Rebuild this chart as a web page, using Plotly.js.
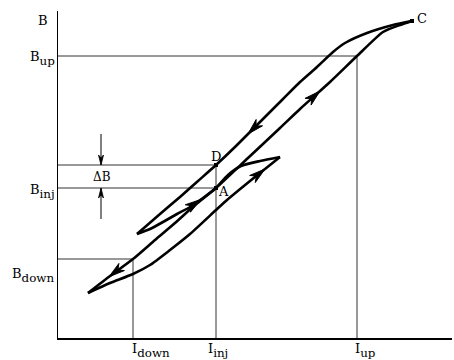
<!DOCTYPE html>
<html><head><meta charset="utf-8">
<script src="https://cdn.plot.ly/plotly-3.0.1.min.js"></script>
<style>html,body{margin:0;padding:0;background:#fff}#chart{width:454px;height:360px}</style>
</head><body><div id="chart"></div>
<script>
// Hysteresis diagram: current I (x) vs field B (y), arbitrary units
// Descending branch from C through D to the left tip of the minor loop
const upperBranchI = [354,335,309,287,275,259,242,225,197,178,158,140,122,102,79];
const upperBranchB = [317,313,305,295,286,271,256,239,211,192,173,157,141,124,104];
// Ascending branch from the left tip through A up to C
const returnBranchI = [79,92,105,119,132,145,158,190,222,242,272,299,325,342,354];
const returnBranchB = [104,109,116,124,131,140,150,180,210,229,256,282,306,313,317];
// Ascending lower branch from the lowest point to the right tip
const lowerBranchI = [30,52,75,92,112,132,158,169,192,207,222];
const lowerBranchB = [45,55,64,73,88,104,128,138,157,169,181];
// Descending branch from the right tip through A and B_down to the lowest point
const fallBranchI = [222,202,183,170,158,137,117,97,75,52,30];
const fallBranchB = [181,177,172,163,150,133,115,98,79,62,45];

// Marked levels
const I_down = 75, I_inj = 158, I_up = 299;
const B_down = 79, B_inj = 150, B_D = 173, B_up = 282;
const C_I = 354, C_B = 317;

const XR = [0,394], YR = [0,327];
const FONT = 'DejaVu Serif, Liberation Serif, serif';

function curve(I, B) {
  return {x:I, y:B, mode:'lines', line:{color:'#000', width:2.6, shape:'spline', smoothing:0.6}, hoverinfo:'skip'};
}
function guide(xs, ys) {
  return {x:xs, y:ys, mode:'lines', line:{color:'#333', width:1}, hoverinfo:'skip'};
}
function pointOn(I, B, x) {
  for (let i=0;i<I.length-1;i++) {
    const a=I[i], b=I[i+1];
    if ((x-a)*(x-b) <= 0 && a!==b) {
      const t=(x-a)/(b-a);
      return {x:x, y:B[i]+t*(B[i+1]-B[i]), dx:b-a, dy:B[i+1]-B[i]};
    }
  }
  return null;
}
function head(tx, ty, dx, dy, len, hw, lw) {
  const m=Math.hypot(dx,dy), ux=dx/m, uy=dy/m, nx=-uy, ny=ux;
  return {x:[tx, tx-len*ux+hw*nx, tx-0.7*len*ux, tx-len*ux-hw*nx, tx],
          y:[ty, ty-len*uy+hw*ny, ty-0.7*len*uy, ty-len*uy-hw*ny, ty],
          mode:'lines', fill:'toself', fillcolor:'#000', line:{color:'#000', width:lw}, hoverinfo:'skip'};
}
function arrowOn(I, B, x) {
  const p = pointOn(I, B, x);
  return head(p.x, p.y, p.dx, p.dy, 16, 4.5, 1);
}

const traces = [
  guide([0, I_up, I_up], [B_up, B_up, 0]),
  guide([0, I_inj, I_inj], [B_D, B_D, 0]),
  guide([0, I_inj], [B_inj, B_inj]),
  guide([0, I_down, I_down], [B_down, B_down, 0]),
  curve(upperBranchI, upperBranchB),
  curve(returnBranchI, returnBranchB),
  curve(lowerBranchI, lowerBranchB),
  curve(fallBranchI, fallBranchB),
  arrowOn(upperBranchI, upperBranchB, 190),
  arrowOn(returnBranchI, returnBranchB, 262),
  arrowOn(returnBranchI, returnBranchB, 143),
  arrowOn(lowerBranchI, lowerBranchB, 207),
  arrowOn(fallBranchI, fallBranchB, 51),
  // delta B indicator arrows
  {x:[43,43], y:[B_D+31, B_D], mode:'lines', line:{color:'#000', width:1}, hoverinfo:'skip'},
  head(43, B_D, 0, -1, 10, 2.5, 0.8),
  {x:[43,43], y:[B_inj-31, B_inj], mode:'lines', line:{color:'#000', width:1}, hoverinfo:'skip'},
  head(43, B_inj, 0, 1, 10, 2.5, 0.8),
  {x:[C_I, I_inj, I_inj], y:[C_B, B_D, B_inj], mode:'markers', marker:{color:'#000', size:4, symbol:'square'}, hoverinfo:'skip'}
];

function lab(text, x, y, xanchor, yanchor, size) {
  return {xref:'paper', yref:'paper', x:(x-XR[0])/(XR[1]-XR[0]), y:(y-YR[0])/(YR[1]-YR[0]),
          text:text, showarrow:false, xanchor:xanchor, yanchor:yanchor,
          font:{family:FONT, size:size||13, color:'#000'}};
}
// main letter at 13px, subscript at 70% of 17px (about 12px)
const SUBLAB = (m, s) => '<span style="font-size:13px">'+m+'</span><sub>'+s+'</sub>';

const layout = {
  width:454, height:360,
  margin:{l:58, r:2, t:11, b:22, pad:0},
  paper_bgcolor:'#fff', plot_bgcolor:'#fff',
  showlegend:false,
  xaxis:{range:XR, showline:true, linecolor:'#000', linewidth:1.5, showgrid:false, zeroline:false, showticklabels:false, ticks:'', fixedrange:true},
  yaxis:{range:YR, showline:true, linecolor:'#000', linewidth:1.5, showgrid:false, zeroline:false, showticklabels:false, ticks:'', fixedrange:true},
  annotations:[
    lab('B', -15, 317, 'center', 'middle'),
    lab(SUBLAB('B','up'), -1, 280, 'right', 'middle', 17),
    lab(SUBLAB('B','inj'), -1, 146, 'right', 'middle', 17),
    lab(SUBLAB('B','down'), -1, 63, 'right', 'middle', 17),
    lab(SUBLAB('I','down'), I_down-3, -13, 'left', 'middle', 17),
    lab(SUBLAB('I','inj'), I_inj-10, -13, 'left', 'middle', 17),
    lab(SUBLAB('I','up'), I_up-4, -13, 'left', 'middle', 17),
    lab('\u0394B', 44, 161, 'center', 'middle', 12),
    lab('D', I_inj, B_D+8, 'center', 'middle'),
    lab('A', I_inj+7, B_inj-4, 'center', 'middle'),
    lab('C', C_I+10, C_B+3, 'center', 'middle')
  ]
};

Plotly.newPlot('chart', traces, layout, {displayModeBar:false, staticPlot:true});
</script>
</body></html>
